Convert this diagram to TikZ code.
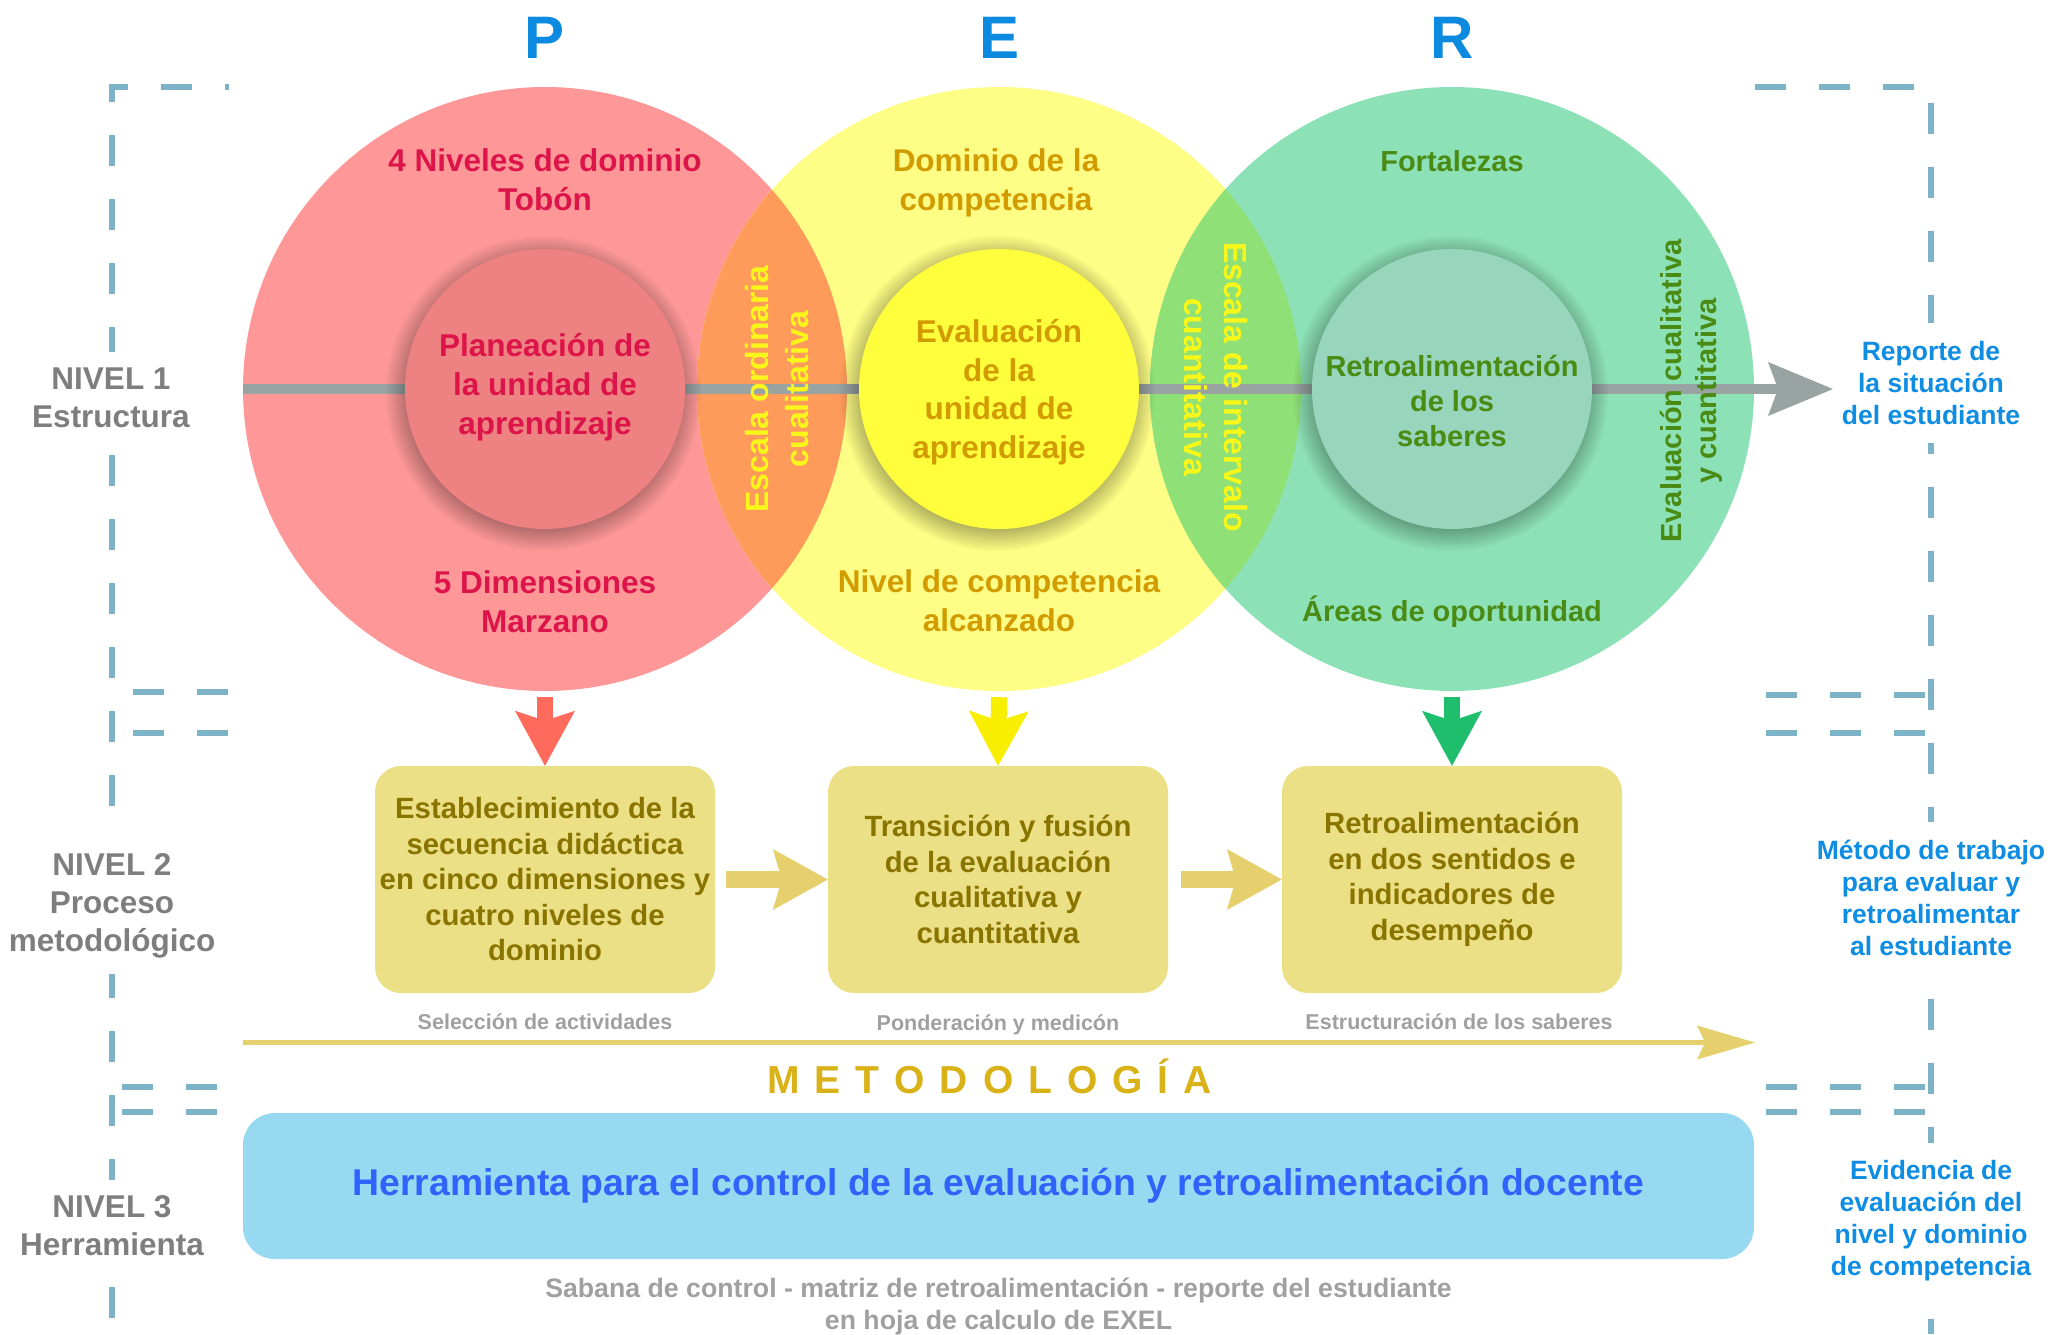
\documentclass[tikz,border=0pt]{standalone}
\usepackage{fontspec}
\setmainfont{Liberation Sans}
\usepackage{xcolor}
\usepackage{tikz}
\usetikzlibrary{arrows.meta, fadings}

\definecolor{perblue}{HTML}{0B8AE0}
\definecolor{noteblue}{HTML}{0E8DE3}
\definecolor{pfill}{HTML}{FE9898}
\definecolor{efill}{HTML}{FEFD85}
\definecolor{rfill}{HTML}{8DE1B6}
\definecolor{pelens}{HTML}{FE9B5B}
\definecolor{erlens}{HTML}{8FE177}
\definecolor{pinner}{HTML}{EE8181}
\definecolor{einner}{HTML}{FEFE3C}
\definecolor{rinner}{HTML}{97D5BC}
\definecolor{ptext}{HTML}{DD1449}
\definecolor{etext}{HTML}{D29C00}
\definecolor{rtext}{HTML}{4A8B14}
\definecolor{lensyel}{HTML}{F9F71A}
\definecolor{axisgray}{HTML}{99A4A2}
\definecolor{parr}{HTML}{FE6A5C}
\definecolor{earr}{HTML}{F8EE00}
\definecolor{rarr}{HTML}{1EBE6C}
\definecolor{boxfill}{HTML}{EBE085}
\definecolor{boxtext}{HTML}{8A7400}
\definecolor{sidearrc}{HTML}{E6D06E}
\definecolor{subgray}{HTML}{A0A0A0}
\definecolor{metgold}{HTML}{D8B216}
\definecolor{barfill}{HTML}{97D9F1}
\definecolor{bartext}{HTML}{3063FB}
\definecolor{framec}{HTML}{7EB2C6}
\definecolor{levelgray}{HTML}{7E7E7E}

\newcommand{\fsz}[2]{\fontsize{#1pt}{#2pt}\selectfont\bfseries}

\begin{document}
\begin{tikzpicture}[x=1pt, y=-1pt,
  bigc/.style={circle, minimum size=604pt, inner sep=0pt},
  innerc/.style={circle, minimum size=280pt, inner sep=0pt},
  halo/.style={fill=black, opacity=0.4, path fading=circle with fuzzy edge 20 percent},
  ctext/.style={align=center, inner sep=0pt, font=\fsz{31.5}{39}},
  lenstext/.style={align=center, inner sep=0pt, text=lensyel, font=\fsz{32}{40}},
  stepbox/.style={rectangle, rounded corners=26pt, minimum width=340pt, minimum height=227pt,
    inner sep=0pt, fill=boxfill, text=boxtext, align=center, font=\fsz{29.3}{35.5}},
  downarr/.style={draw=#1, line width=16pt, -{Stealth[length=55pt, width=60pt, inset=10pt, line width=0pt]}},
  sidearr/.style={draw=sidearrc, line width=17pt, -{Stealth[length=55pt, width=61pt, inset=9pt, line width=0pt]}},
  axisline/.style={draw=axisgray, line width=10pt, -{Stealth[length=65pt, width=54pt, inset=10pt, line width=0pt]}},
  metline/.style={draw=sidearrc, line width=5pt, -{Stealth[length=58pt, width=34pt, inset=8pt, line width=0pt]}},
  sublabel/.style={text=subgray, inner sep=0pt, font=\fsz{21.5}{26}},
  levellabel/.style={text=levelgray, align=center, fill=white, inner xsep=4pt, inner ysep=16pt, font=\fsz{31.5}{38}},
  sidenote/.style={text=noteblue, align=center, fill=white, inner xsep=4pt, inner ysep=18pt, font=\fsz{26.5}{32}},
  dashframe/.style={draw=framec, line width=6pt, dash pattern=on 31pt off 33pt},
  pertitle/.style={text=perblue, inner sep=0pt, anchor=base, font=\fsz{60}{60}}
]
\useasboundingbox (0,0) rectangle (2061,1334);

% P E R
\node[pertitle] (tp) at (545,58) {P};
\node[pertitle] (te) at (999,58) {E};
\node[pertitle] (tr) at (1452,58) {R};

% dashed brackets of the three levels
\draw[dashframe, dash phase=27pt] (229,87) -- (112,87) -- (112,1334);
\draw[dashframe] (133,692) -- (229,692);
\draw[dashframe] (133,733) -- (229,733);
\draw[dashframe] (122,1087) -- (217,1087);
\draw[dashframe] (122,1112) -- (217,1112);
\draw[dashframe] (1755,87) -- (1931,87) -- (1931,1334);
\draw[dashframe] (1766,695) -- (1925,695);
\draw[dashframe] (1766,733) -- (1925,733);
\draw[dashframe] (1766,1087) -- (1925,1087);
\draw[dashframe] (1766,1112) -- (1925,1112);

% big circles and their overlaps
\node[bigc, fill=pfill] (pcirc) at (545,389) {};
\node[bigc, fill=efill] (ecirc) at (999,389) {};
\node[bigc, fill=rfill] (rcirc) at (1452,389) {};
\begin{scope}
\clip (pcirc.center) circle (302);
\fill[pelens] (ecirc.center) circle (302);
\end{scope}
\begin{scope}
\clip (ecirc.center) circle (302);
\fill[erlens] (rcirc.center) circle (302);
\end{scope}

% axis
\coordinate (reptip) at (1833,389);
\draw[axisline] (pcirc.west) -- (reptip);

% inner circles with soft shadow
\fill[halo] ([xshift=-2pt, yshift=-4pt]pcirc.center) circle (158);
\fill[halo] ([xshift=-2pt, yshift=-4pt]ecirc.center) circle (158);
\fill[halo] ([xshift=-2pt, yshift=-4pt]rcirc.center) circle (158);
\node[innerc, fill=pinner] (pin) at (pcirc.center) {};
\node[innerc, fill=einner] (ein) at (ecirc.center) {};
\node[innerc, fill=rinner] (rin) at (rcirc.center) {};
\node[ctext, text=ptext] (pinlabel) at (545,387) {Planeación de\\la unidad de\\aprendizaje};
\node[ctext, text=etext, font=\fsz{31.5}{38.5}] (einlabel) at (999,392) {Evaluación\\de la\\unidad de\\aprendizaje};
\node[ctext, text=rtext, font=\fsz{29}{35}] (rinlabel) at (1452,401) {Retroalimentación\\de los\\saberes};

% circle texts
\node[ctext, text=ptext] (ptop) at (545,180) {4 Niveles de dominio\\Tobón};
\node[ctext, text=ptext] (pbot) at (545,602) {5 Dimensiones\\Marzano};
\node[ctext, text=etext] (etop) at (996,183) {Dominio de la\\competencia};
\node[ctext, text=etext] (ebot) at (999,601) {Nivel de competencia\\alcanzado};
\node[ctext, text=rtext, font=\fsz{29}{35}] (rtop) at (1452,161) {Fortalezas};
\node[ctext, text=rtext, font=\fsz{29}{35}] (rbot) at (1452,612) {Áreas de oportunidad};

% lens and side texts
\node[lenstext, rotate=90] (pelabel) at (777,389) {Escala ordinaria\\cualitativa};
\node[lenstext, rotate=-90] (erlabel) at (1216,387) {Escala de intervalo\\cuantitativa};
\node[ctext, rotate=90, text=rtext, font=\fsz{29}{35}] (rside) at (1691,391) {Evaluación cualitativa\\y cuantitativa};

% level 2 boxes
\node[stepbox] (pbox) at (545,879.5) {Establecimiento de la\\secuencia didáctica\\en cinco dimensiones y\\cuatro niveles de\\dominio};
\node[stepbox] (ebox) at (998,879.5) {Transición y fusión\\de la evaluación\\cualitativa y\\cuantitativa};
\node[stepbox] (rbox) at (1452,879.5) {Retroalimentación\\en dos sentidos e\\indicadores de\\desempeño};

\draw[downarr=parr] ([yshift=-6pt]pcirc.south) -- (pbox.north);
\draw[downarr=earr] ([yshift=-6pt]ecirc.south) -- (ebox.north);
\draw[downarr=rarr] ([yshift=-6pt]rcirc.south) -- (rbox.north);
\draw[sidearr] ([xshift=11pt]pbox.east) -- (ebox.west);
\draw[sidearr] ([xshift=13pt]ebox.east) -- (rbox.west);

\node[sublabel] (psub) at (545,1022) {Selección de actividades};
\node[sublabel] (esub) at (998,1025) {Ponderación y medicón};
\node[sublabel] (rsub) at (1459,1022) {Estructuración de los saberes};

% metodologia
\coordinate (metstart) at (243,1042.5);
\coordinate (metend) at (1755,1042.5);
\draw[metline] (metstart) -- (metend);
\node[text=metgold, inner sep=0pt, anchor=base, font=\fsz{39}{39}] (met) at (989.5,1093) {\spaceskip=15pt\relax M E T O D O L O G Í A};

% level 3 tool
\node[rectangle, rounded corners=32pt, fill=barfill, minimum width=1511pt, minimum height=146pt,
  text=bartext, font=\fsz{37.3}{40}] (tool) at (998.5,1186) {Herramienta para el control de la evaluación y retroalimentación docente};
\node[align=center, inner sep=0pt, text=subgray, font=\fsz{26.7}{32}] (toolnote) at (998.5,1306) {Sabana de control - matriz de retroalimentación - reporte del estudiante\\en hoja de calculo de EXEL};

% level labels
\node[levellabel] (lv1) at (111,398) {NIVEL 1\\Estructura};
\node[levellabel] (lv2) at (112,906) {NIVEL 2\\Proceso\\metodológico};
\node[levellabel] (lv3) at (112,1226) {NIVEL 3\\Herramienta};

\node[sidenote] (report) at (1931,383) {Reporte de\\la situación\\del estudiante};
\node[sidenote] (method) at (1931,898) {Método de trabajo\\para evaluar y\\retroalimentar\\al estudiante};
\node[sidenote] (evid) at (1931,1221) {Evidencia de\\evaluación del\\nivel y dominio\\de competencia};
\end{tikzpicture}
\end{document}
